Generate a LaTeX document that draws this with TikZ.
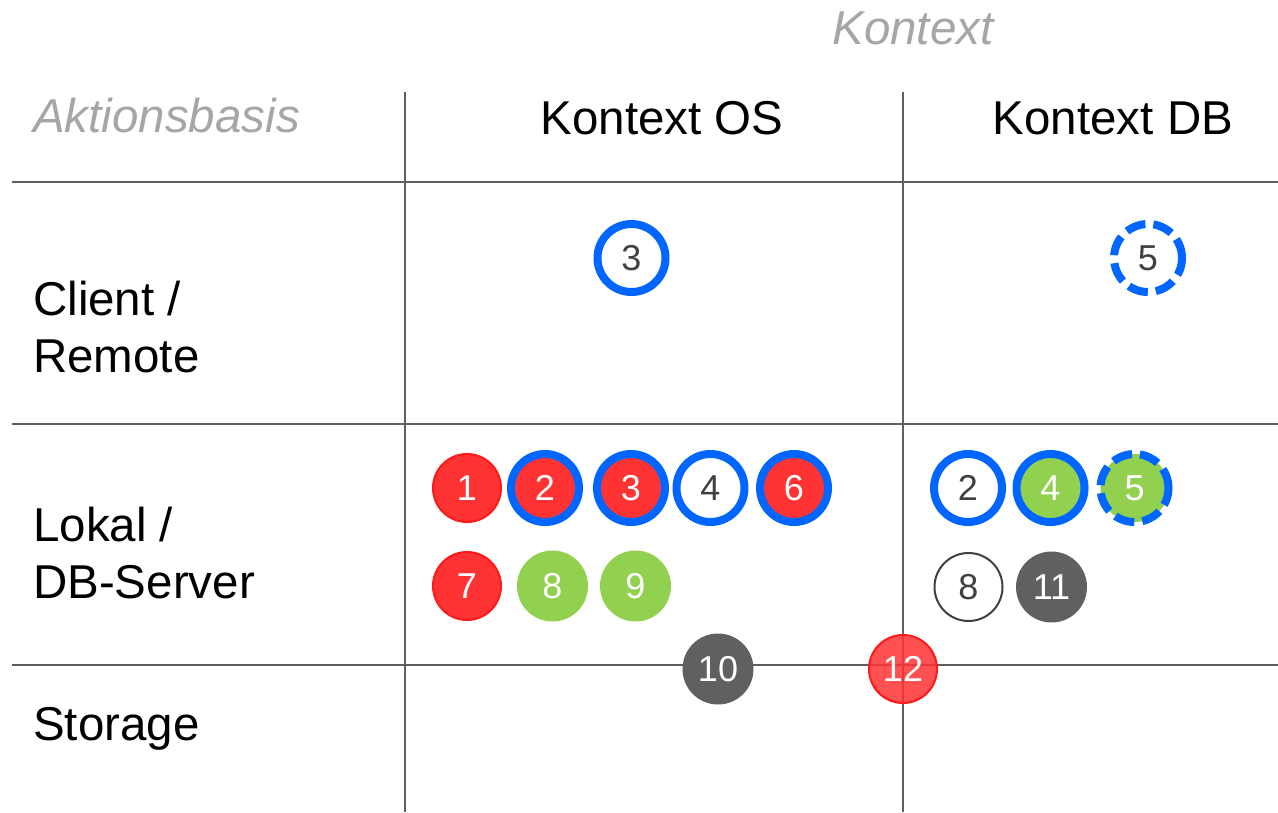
\documentclass[tikz,border=0pt]{standalone}
\usepackage{fontspec}
\setmainfont{Liberation Sans}
\definecolor{gridc}{HTML}{5F5F5F}
\definecolor{redc}{HTML}{FF3333}
\definecolor{redb}{HTML}{FF1A1A}
\definecolor{greenc}{HTML}{92D050}
\definecolor{darkc}{HTML}{606060}
\definecolor{bluec}{HTML}{0066FF}
\definecolor{txtc}{HTML}{404040}
\definecolor{headc}{HTML}{A6A6A6}
\tikzset{
  gridline/.style={draw=gridc, line width=2.5pt},
  lbl/.style={anchor=base west, font=\fontsize{47.5}{50}\selectfont, inner sep=0pt},
  head/.style={anchor=base, font=\fontsize{47.5}{50}\selectfont, inner sep=0pt},
  ital/.style={font=\fontsize{47.5}{50}\selectfont\itshape, text=headc, inner sep=0pt},
  num/.style={circle, minimum size=68pt, inner sep=0pt, font=\fontsize{36}{36}\selectfont},
  redn/.style={num, fill=redc, draw=redb, line width=2pt, text=white},
  redbl/.style={num, fill=redc, draw=bluec, line width=8pt, text=white},
  whitebl/.style={num, fill=white, draw=bluec, line width=8pt, text=txtc},
  greenn/.style={num, minimum size=71pt, fill=greenc, text=white},
  greenbl/.style={num, fill=greenc, draw=bluec, line width=8pt, text=white},
  greendash/.style={num, fill=greenc, draw=bluec, line width=8pt, dash pattern=on 20pt off 8pt, text=white},
  whitedash/.style={num, fill=white, draw=bluec, line width=8pt, dash pattern=on 20pt off 8pt, text=txtc},
  darkn/.style={num, minimum size=71pt, fill=darkc, text=white},
  thinn/.style={num, fill=white, draw=txtc, line width=2pt, text=txtc},
}
\begin{document}
\begin{tikzpicture}[x=1pt,y=-1pt]
\useasboundingbox (0,0) rectangle (1278,812);
% grid
\coordinate (v1t) at (405,92); \coordinate (v1b) at (405,812);
\coordinate (v2t) at (903,92); \coordinate (v2b) at (903,812);
\coordinate (h1l) at (12,182); \coordinate (h1r) at (1278,182);
\coordinate (h2l) at (12,424); \coordinate (h2r) at (1278,424);
\coordinate (h3l) at (12,665); \coordinate (h3r) at (1278,665);
\draw[gridline] (v1t) -- (v1b);
\draw[gridline] (v2t) -- (v2b);
\draw[gridline] (h1l) -- (h1r);
\draw[gridline] (h2l) -- (h2r);
\draw[gridline] (h3l) -- (h3r);
% headers
\node[ital, anchor=base] (kontext) at (913,44) {Kontext};
\node[ital, anchor=base west] (aktion) at (33,132) {Aktionsbasis};
\node[head] (kos) at (662,134) {Kontext OS};
\node[head] (kdb) at (1113,134) {Kontext DB};
\node[lbl] (client) at (33,315) {Client /};
\node[lbl] (remote) at (33,372) {Remote};
\node[lbl] (lokal) at (33,541) {Lokal /};
\node[lbl] (dbserver) at (33,598) {DB-Server};
\node[lbl] (storage) at (33,740) {Storage};
% client row
\node[whitebl] (c3) at (631.5,258) {3};
\node[whitedash] (c5) at (1148,258) {5};
% lokal row OS
\node[redn] (l1) at (467,488) {1};
\node[redbl] (l2) at (545,488) {2};
\node[redbl] (l3) at (631,488) {3};
\node[whitebl] (l4) at (710.5,488) {4};
\node[redbl] (l6) at (794,488) {6};
\node[redn] (l7) at (467,586) {7};
\node[greenn] (l8) at (552.5,586) {8};
\node[greenn] (l9) at (635.5,586) {9};
% lokal row DB
\node[whitebl] (d2) at (968,488) {2};
\node[greenbl] (d4) at (1050.5,488) {4};
\node[greendash] (d5) at (1134.5,488) {5};
\node[thinn] (d8) at (968.5,587) {8};
\node[darkn] (d11) at (1051.5,587) {11};
% storage border
\node[darkn] (s10) at (718,669) {10};
\node[num, fill=redc, fill opacity=0.85, draw=redb, line width=2pt, text=white, text opacity=1] (s12) at (903,669) {12};
\end{tikzpicture}
\end{document}
